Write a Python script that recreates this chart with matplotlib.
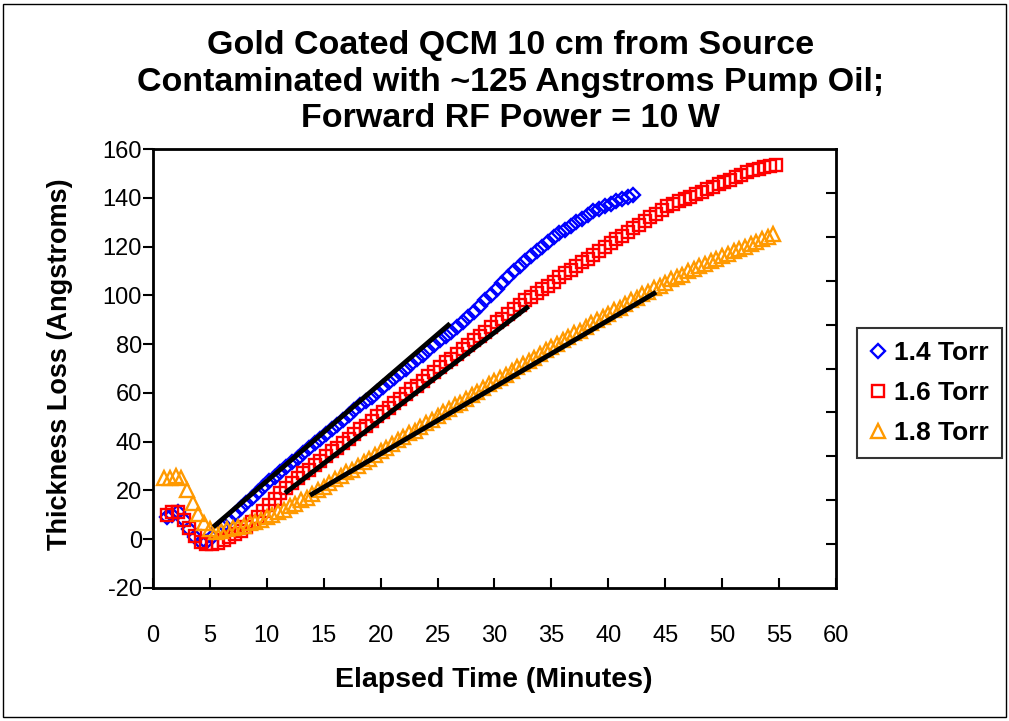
import numpy as np
import matplotlib
matplotlib.use('Agg')
import matplotlib.pyplot as plt
from matplotlib.patches import Rectangle

plt.rcParams['font.family'] = ['Liberation Sans', 'DejaVu Sans']

# elapsed time (minutes)
time_a = [1.2, 1.7, 2.2, 2.7, 3.2, 3.7, 4.2, 4.7, 5.2, 5.7, 6.2, 6.7, 7.2, 7.7, 8.2, 8.7, 9.2, 9.7,
          10.2, 10.7, 11.2, 11.7, 12.2, 12.7, 13.2, 13.7, 14.2, 14.7, 15.2, 15.7, 16.2, 16.7, 17.2, 17.7,
          18.2, 18.7, 19.2, 19.7, 20.2, 20.7, 21.2, 21.7, 22.2, 22.7, 23.2, 23.7, 24.2, 24.7, 25.2, 25.7,
          26.2, 26.7, 27.2, 27.7, 28.2, 28.7, 29.2, 29.7, 30.2, 30.7, 31.2, 31.7, 32.2, 32.7, 33.2, 33.7,
          34.2, 34.7, 35.2, 35.7, 36.2, 36.7, 37.2, 37.7, 38.2, 38.7, 39.2, 39.7, 40.2, 40.7, 41.2, 41.7,
          42.2, 42.7, 43.2, 43.7, 44.2, 44.7, 45.2, 45.7, 46.2, 46.7, 47.2, 47.7, 48.2, 48.7, 49.2, 49.7,
          50.2, 50.7, 51.2, 51.7, 52.2, 52.7, 53.2, 53.7, 54.2, 54.7]
time_b = [1.0, 1.5, 2.0, 2.5, 3.0, 3.5, 4.0, 4.5, 5.0, 5.5, 6.0, 6.5, 7.0, 7.5, 8.0, 8.5, 9.0, 9.5,
          10.0, 10.5, 11.0, 11.5, 12.0, 12.5, 13.0, 13.5, 14.0, 14.5, 15.0, 15.5, 16.0, 16.5, 17.0, 17.5,
          18.0, 18.5, 19.0, 19.5, 20.0, 20.5, 21.0, 21.5, 22.0, 22.5, 23.0, 23.5, 24.0, 24.5, 25.0, 25.5,
          26.0, 26.5, 27.0, 27.5, 28.0, 28.5, 29.0, 29.5, 30.0, 30.5, 31.0, 31.5, 32.0, 32.5, 33.0, 33.5,
          34.0, 34.5, 35.0, 35.5, 36.0, 36.5, 37.0, 37.5, 38.0, 38.5, 39.0, 39.5, 40.0, 40.5, 41.0, 41.5,
          42.0, 42.5, 43.0, 43.5, 44.0, 44.5, 45.0, 45.5, 46.0, 46.5, 47.0, 47.5, 48.0, 48.5, 49.0, 49.5,
          50.0, 50.5, 51.0, 51.5, 52.0, 52.5, 53.0, 53.5, 54.0, 54.5]

# thickness loss (Angstroms)
loss_14 = [9, 10, 11, 8, 4, 1, -1, -1, 1, 4, 6, 8, 10.5, 13, 15, 17, 19.5, 21.5,
           24, 25.5, 27.5, 29.5, 31.5, 33.5, 35.5, 37.5, 39.5, 41, 43, 45, 47, 49, 51, 53,
           55, 56.5, 58.5, 60.5, 62.5, 64.5, 66, 68, 70, 72, 74, 75.5, 77.5, 79.5, 81.5, 83.5,
           85, 87, 89, 91, 93, 95.5, 98, 100, 102.5, 105, 107.5, 110, 112, 114, 116, 118,
           120, 122, 124, 125.5, 127, 128.5, 130, 131.5, 133, 134.5, 135.5, 136.5, 137.5, 138.5, 139.5, 140.5,
           141]
loss_16 = [10, 11, 11, 8, 4.5, 1.5, -1, -2, -2, -1.5, -0.5, 1, 2, 3.5, 5, 7, 9, 11.5,
           14, 16.5, 19, 21, 23, 25, 27, 28.5, 30.5, 32, 34, 36, 37.5, 39.5, 41, 43,
           45, 46.5, 48.5, 50.5, 52, 54, 56, 57.5, 59.5, 61.5, 63, 65, 67, 68.5, 70.5, 72.5,
           74, 76, 78, 79.5, 81.5, 83.5, 85, 87, 89, 90.5, 92.5, 94.5, 96, 98, 99.5, 101,
           102.5, 104, 105.5, 107.5, 109, 110.5, 112, 113.5, 115, 116.5, 118, 120, 121.5, 123, 124.5, 126,
           127.5, 129, 130.5, 132, 133.5, 135, 136.5, 137.5, 138.5, 139.5, 140.5, 141.5, 142.5, 143.5, 144.5, 145.5,
           146.5, 147.5, 148.5, 149.5, 150.5, 151.5, 152, 152.5, 153, 153.5]
loss_18 = [25, 25, 26, 25, 20, 15, 10.5, 6.5, 4, 3, 3.5, 4, 4.5, 5, 5.5, 6.5, 7, 8,
           9, 10, 11, 12, 13.5, 14.5, 16, 17, 18.5, 20, 21.5, 23, 24.5, 26, 27.5, 28.5,
           30, 31.5, 33, 34.5, 36, 37.5, 39, 40.5, 42, 43.5, 44.5, 46, 47.5, 49, 50.5, 52,
           53.5, 55, 56, 57.5, 59, 60.5, 62, 63.5, 65, 66, 67.5, 69, 70.5, 72, 73, 74.5,
           76, 77.5, 79, 80, 81.5, 83, 84.5, 85.5, 87, 88.5, 90, 91, 92.5, 94, 95, 96.5,
           98, 99, 100.5, 101.5, 103, 104, 105, 106.5, 107.5, 108.5, 110, 111, 112, 113, 114, 115,
           116, 117, 118, 119, 120, 121, 122, 123, 124, 125]

# linear fit segments (start, end)
fit_14_t = [5.3, 26.1]
fit_14_y = [5, 88.4]
fit_16_t = [11.6, 33.0]
fit_16_y = [18.9, 95.5]
fit_18_t = [13.8, 44.2]
fit_18_y = [18, 101.3]

fig = plt.figure(figsize=(10.09, 7.21), dpi=100)
ax = fig.add_axes([0.1516, 0.1845, 0.6769, 0.6088])

ax.plot(time_a[:len(loss_14)], loss_14, 'D', ms=7, mfc='none', mec='#0000FF', mew=1.7, label='1.4 Torr')
ax.plot(time_a[:len(loss_16)], loss_16, 's', ms=9, mfc='none', mec='#FF0000', mew=1.7, label='1.6 Torr')
ax.plot(time_b[:len(loss_18)], loss_18, '^', ms=10, mfc='none', mec='#FF9900', mew=1.7, label='1.8 Torr')
for ft, fy in [(fit_14_t, fit_14_y), (fit_16_t, fit_16_y), (fit_18_t, fit_18_y)]:
    ax.plot(ft, fy, color='black', lw=3.5, solid_capstyle='butt')

ax.set_xlim(0, 60)
ax.set_ylim(-20, 160)
ax.set_xticks(range(0, 61, 5))
ax.set_yticks(range(-20, 161, 20))
tick_font = {'size': 17}
ax.set_xticklabels([str(v) for v in range(0, 61, 5)], fontdict=tick_font)
ax.set_yticklabels([str(v) for v in range(-20, 161, 20)], fontdict=tick_font)
ax.tick_params(axis='x', direction='in', length=7, width=1.5, pad=27)
ax.tick_params(axis='y', direction='out', length=7, width=1.5, pad=1)
for s in ax.spines.values():
    s.set_linewidth(2)
    s.set_color('black')

# right side ticks (Excel secondary scale, no labels)
ax2 = ax.twinx()
ax2.set_ylim(0, 10)
ax2.set_yticks(range(1, 10))
ax2.set_yticklabels([])
ax2.tick_params(axis='y', direction='in', length=7, width=1.5)

fig.text(0.506, 1 - 82 / 721, 'Gold Coated QCM 10 cm from Source\nContaminated with ~125 Angstroms Pump Oil;\nForward RF Power = 10 W',
         ha='center', va='center', fontsize=24.5, fontweight='bold', linespacing=1.22)
fig.text(494 / 1009, 1 - 680 / 721, 'Elapsed Time (Minutes)', ha='center', va='center', fontsize=20.5, fontweight='bold')
fig.text(60 / 1009, 1 - 364 / 721, 'Thickness Loss (Angstroms)', ha='center', va='center', rotation=90,
         fontsize=19.5, fontweight='bold')

leg = ax.legend(loc='center left', bbox_to_anchor=(857 / 1009, 1 - 393 / 721), bbox_transform=fig.transFigure,
                borderaxespad=0, prop={'weight': 'bold', 'size': 19}, frameon=True, fancybox=False,
                handlelength=0.6, handletextpad=0.3, labelspacing=0.6, borderpad=0.5)
leg.get_frame().set_edgecolor('black')
leg.get_frame().set_linewidth(1.5)

fig.add_artist(Rectangle((0.003, 0.005), 0.994, 0.99, transform=fig.transFigure, fill=False, ec='black', lw=1))

fig.savefig('out.png', dpi=100)
